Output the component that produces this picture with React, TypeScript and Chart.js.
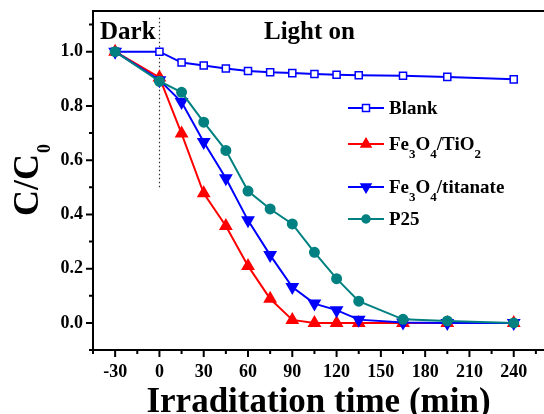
import { useEffect, useRef } from 'react';
import { Chart, registerables } from 'chart.js';

Chart.register(...registerables);

const timeMin = [-30, 0, 15, 30, 45, 60, 75, 90, 105, 120, 135, 165, 195, 240];
const blank = [1.0, 1.0, 0.96, 0.949, 0.938, 0.929, 0.924, 0.921, 0.918, 0.915, 0.913, 0.911, 0.907, 0.898];
const fe3o4TiO2 = [1.0, 0.905, 0.698, 0.478, 0.357, 0.21, 0.089, 0.011, 0.0, 0.0, 0.0, 0.0, 0.0, 0.0];
const fe3o4Titanate = [1.0, 0.895, 0.814, 0.667, 0.533, 0.378, 0.25, 0.132, 0.071, 0.047, 0.012, 0.001, 0.0, 0.0];
const p25 = [1.0, 0.891, 0.85, 0.74, 0.636, 0.486, 0.42, 0.365, 0.26, 0.163, 0.08, 0.013, 0.007, 0.0];

const xMajorTicks = [-30, 0, 30, 60, 90, 120, 150, 180, 210, 240];
const xMinorTicks = [-45, -15, 15, 45, 75, 105, 135, 165, 195, 225, 255];
const yMajorTicks = [0, 0.2, 0.4, 0.6, 0.8, 1.0];
const yMinorTicks = [-0.1, 0.1, 0.3, 0.5, 0.7, 0.9, 1.1];

const FONT = "'Liberation Serif', 'Times New Roman', serif";

type Part = { t: string; sub?: boolean };
const legendItems: { parts: Part[]; color: string; marker: string; fill: string; y: number }[] = [
  { parts: [{ t: 'Blank' }], color: '#0000FF', marker: 'square', fill: '#FFFFFF', y: 108 },
  { parts: [{ t: 'Fe' }, { t: '3', sub: true }, { t: 'O' }, { t: '4', sub: true }, { t: '/TiO' }, { t: '2', sub: true }], color: '#FF0000', marker: 'up', fill: '#FF0000', y: 144 },
  { parts: [{ t: 'Fe' }, { t: '3', sub: true }, { t: 'O' }, { t: '4', sub: true }, { t: '/titanate' }], color: '#0000FF', marker: 'down', fill: '#0000FF', y: 187 },
  { parts: [{ t: 'P25' }], color: '#008080', marker: 'circle', fill: '#008080', y: 219 },
];

function drawMarker(ctx: CanvasRenderingContext2D, kind: string, x: number, y: number, color: string, fill: string) {
  ctx.save();
  ctx.strokeStyle = color;
  ctx.fillStyle = fill;
  ctx.lineWidth = 1.5;
  ctx.beginPath();
  if (kind === 'square') {
    ctx.rect(x - 3.5, y - 3.5, 7, 7);
  } else if (kind === 'up') {
    ctx.moveTo(x, y - 5.5);
    ctx.lineTo(x + 5, y + 3);
    ctx.lineTo(x - 5, y + 3);
    ctx.closePath();
  } else if (kind === 'down') {
    ctx.moveTo(x, y + 5.5);
    ctx.lineTo(x + 5, y - 3);
    ctx.lineTo(x - 5, y - 3);
    ctx.closePath();
  } else {
    ctx.arc(x, y, 4, 0, Math.PI * 2);
  }
  ctx.fill();
  ctx.stroke();
  ctx.restore();
}

const decorPlugin = {
  id: 'decor',
  beforeDatasetsDraw(chart: any) {
    const { ctx, scales } = chart;
    const x = scales.x;
    const y = scales.y;
    ctx.save();
    ctx.strokeStyle = '#333';
    ctx.lineWidth = 1.2;
    ctx.setLineDash([1.5, 2.5]);
    const px = Math.round(x.getPixelForValue(0)) + 0.5;
    ctx.beginPath();
    ctx.moveTo(px, y.getPixelForValue(1.125));
    ctx.lineTo(px, y.getPixelForValue(0.5));
    ctx.stroke();
    ctx.restore();
  },
  afterDraw(chart: any) {
    const { ctx, chartArea, scales } = chart;
    const x = scales.x;
    const y = scales.y;
    ctx.save();
    ctx.strokeStyle = '#000';
    ctx.lineWidth = 2;
    // top border
    ctx.beginPath();
    ctx.moveTo(chartArea.left, chartArea.top);
    ctx.lineTo(chartArea.right, chartArea.top);
    ctx.stroke();
    // ticks
    const b = chartArea.bottom;
    const l = chartArea.left;
    ctx.beginPath();
    xMajorTicks.forEach((v) => {
      const p = x.getPixelForValue(v);
      ctx.moveTo(p, b);
      ctx.lineTo(p, b + 7);
    });
    xMinorTicks.forEach((v) => {
      const p = x.getPixelForValue(v);
      ctx.moveTo(p, b);
      ctx.lineTo(p, b + 4);
    });
    yMajorTicks.forEach((v) => {
      const p = y.getPixelForValue(v);
      ctx.moveTo(l, p);
      ctx.lineTo(l - 7, p);
    });
    yMinorTicks.forEach((v) => {
      const p = y.getPixelForValue(v);
      ctx.moveTo(l, p);
      ctx.lineTo(l - 4, p);
    });
    ctx.stroke();

    ctx.fillStyle = '#000';
    ctx.textBaseline = 'alphabetic';
    ctx.textAlign = 'left';
    // annotations
    ctx.font = `bold 25px ${FONT}`;
    ctx.fillText('Dark', 100, 39);
    ctx.fillText('Light on', 264, 39);

    // legend
    legendItems.forEach((it) => {
      ctx.save();
      ctx.strokeStyle = it.color;
      ctx.lineWidth = 2;
      ctx.beginPath();
      ctx.moveTo(348, it.y);
      ctx.lineTo(384, it.y);
      ctx.stroke();
      ctx.restore();
      drawMarker(ctx, it.marker, 366, it.y, it.color, it.fill);
      let tx = 389;
      const base = it.y + 6;
      it.parts.forEach((p) => {
        if (p.sub) {
          ctx.font = `bold 13px ${FONT}`;
          ctx.fillText(p.t, tx, base + 8);
        } else {
          ctx.font = `bold 19px ${FONT}`;
          ctx.fillText(p.t, tx, base);
        }
        tx += ctx.measureText(p.t).width;
      });
    });

    // x title
    ctx.font = `bold 35px ${FONT}`;
    ctx.textAlign = 'center';
    ctx.fillText('Irraditation time (min)', (chartArea.left + chartArea.right) / 2, 412);

    // y title
    ctx.save();
    const cy = (chartArea.top + chartArea.bottom) / 2;
    ctx.translate(38, cy);
    ctx.rotate(-Math.PI / 2);
    ctx.textAlign = 'left';
    ctx.font = `bold 36px ${FONT}`;
    const w1 = ctx.measureText('C/C').width;
    ctx.font = `bold 18px ${FONT}`;
    const w2 = ctx.measureText('0').width;
    const start = -(w1 + w2) / 2;
    ctx.font = `bold 36px ${FONT}`;
    ctx.fillText('C/C', start, 0);
    ctx.font = `bold 18px ${FONT}`;
    ctx.fillText('0', start + w1 + 1, 12);
    ctx.restore();

    ctx.restore();
  },
};

export default function App() {
  const ref = useRef<HTMLCanvasElement>(null);
  useEffect(() => {
    if (!ref.current) return;
    const tickFont = { family: FONT, size: 18, weight: 'bold' as const };
    const mk = (data: number[]) => timeMin.map((t, i) => ({ x: t, y: data[i] }));
    const chart = new Chart(ref.current, {
      type: 'line',
      data: {
        datasets: [
          {
            label: 'Blank',
            data: mk(blank),
            borderColor: '#0000FF',
            backgroundColor: '#FFFFFF',
            pointBorderColor: '#0000FF',
            pointBackgroundColor: '#FFFFFF',
            pointStyle: 'rect',
            pointRadius: 5,
            pointBorderWidth: 1.5,
            borderWidth: 2,
            order: 3,
          },
          {
            label: 'Fe3O4/TiO2',
            data: mk(fe3o4TiO2),
            borderColor: '#FF0000',
            backgroundColor: '#FF0000',
            pointStyle: 'triangle',
            pointRadius: 6,
            borderWidth: 2,
            order: 2,
          },
          {
            label: 'Fe3O4/titanate',
            data: mk(fe3o4Titanate),
            borderColor: '#0000FF',
            backgroundColor: '#0000FF',
            pointStyle: 'triangle',
            rotation: 180,
            pointRadius: 6,
            borderWidth: 2,
            order: 1,
          },
          {
            label: 'P25',
            data: mk(p25),
            borderColor: '#008080',
            backgroundColor: '#008080',
            pointStyle: 'circle',
            pointRadius: 4.5,
            borderWidth: 2,
            order: 0,
          },
        ],
      },
      options: {
        animation: false,
        responsive: false,
        devicePixelRatio: 1,
        layout: { autoPadding: false, padding: { top: 11, right: 0, left: 0, bottom: 0 } },
        plugins: { legend: { display: false }, tooltip: { enabled: false } },
        elements: { line: { tension: 0 } },
        scales: {
          x: {
            type: 'linear',
            min: -45,
            max: 260.5,
            afterBuildTicks: (s: any) => {
              s.ticks = xMajorTicks.map((v) => ({ value: v }));
            },
            afterFit: (s: any) => {
              s.height = 64;
              s.paddingLeft = 0;
              s.paddingRight = 0;
              s.paddingTop = 0;
              s.paddingBottom = 0;
            },
            ticks: {
              font: tickFont,
              color: '#000',
              padding: 12,
              maxRotation: 0,
              autoSkip: false,
              callback: (v: any) => String(v),
            },
            grid: { display: false, drawTicks: false, tickLength: 0 },
            border: { display: true, color: '#000', width: 2 },
          },
          y: {
            type: 'linear',
            min: -0.1,
            max: 1.15,
            afterBuildTicks: (s: any) => {
              s.ticks = yMajorTicks.map((v) => ({ value: v }));
            },
            afterFit: (s: any) => {
              s.width = 93;
              s.paddingLeft = 0;
              s.paddingRight = 0;
              s.paddingTop = 0;
              s.paddingBottom = 0;
            },
            ticks: {
              font: tickFont,
              color: '#000',
              padding: 10,
              autoSkip: false,
              callback: (v: any) => Number(v).toFixed(1),
            },
            grid: { display: false, drawTicks: false, tickLength: 0 },
            border: { display: true, color: '#000', width: 2 },
          },
        },
      },
      plugins: [decorPlugin],
    });
    return () => chart.destroy();
  }, []);
  return (
    <div style={{ position: 'absolute', left: 0, top: 0, width: 544, height: 414, background: '#fff' }}>
      <canvas ref={ref} width={544} height={414} style={{ display: 'block', width: 544, height: 414 }} />
    </div>
  );
}
